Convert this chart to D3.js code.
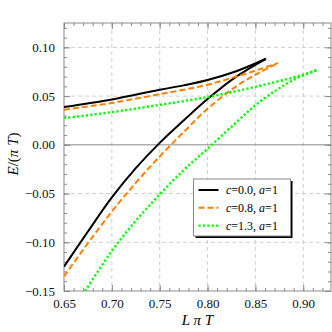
<!DOCTYPE html>
<html>
<head>
<meta charset="utf-8">
<script src="https://cdn.jsdelivr.net/npm/d3@7"></script>
<style>
  body { margin: 0; background: #fff; }
  svg text { font-family: serif; }
</style>
</head>
<body>
<svg id="chart" width="332" height="332"></svg>
<script>
// each curve has a lower and an upper branch meeting at a cusp
const c00_lower = [
    [0.650, -0.125], [0.675, -0.089], [0.700, -0.054], [0.725, -0.024], [0.750, 0.002],
    [0.775, 0.025], [0.800, 0.047], [0.830, 0.070], [0.861, 0.0883]
];
const c00_upper = [
    [0.650, 0.0387], [0.700, 0.0465], [0.750, 0.0565], [0.775, 0.0610], [0.800, 0.0665],
    [0.830, 0.0755], [0.850, 0.0835], [0.861, 0.0883]
];
const c08_lower = [
    [0.650, -0.135], [0.675, -0.101], [0.700, -0.0685], [0.725, -0.039], [0.750, -0.012],
    [0.775, 0.013], [0.800, 0.037], [0.830, 0.060], [0.855, 0.0745], [0.8735, 0.0839]
];
const c08_upper = [
    [0.650, 0.0360], [0.700, 0.0430], [0.750, 0.0520], [0.800, 0.0616], [0.830, 0.0701],
    [0.855, 0.0777], [0.8735, 0.0839]
];
const c13_lower = [
    [0.672, -0.150], [0.700, -0.109], [0.725, -0.078], [0.750, -0.051], [0.775, -0.026],
    [0.800, -0.004], [0.830, 0.023], [0.855, 0.0445], [0.890, 0.0667], [0.915, 0.077]
];
const c13_upper = [
    [0.650, 0.0274], [0.700, 0.0335], [0.750, 0.0410], [0.800, 0.0490], [0.850, 0.0595],
    [0.900, 0.0719], [0.915, 0.077]
];

const series = [
    {label: ['c', '=0.0, ', 'a', '=1'], branches: [c00_lower, c00_upper], color: '#000000', dash: null, width: 2},
    {label: ['c', '=0.8, ', 'a', '=1'], branches: [c08_lower, c08_upper], color: '#ff8000', dash: '6,3', width: 2},
    {label: ['c', '=1.3, ', 'a', '=1'], branches: [c13_lower, c13_upper], color: '#00ff00', dash: '2.2,2.2', width: 2.4}
];

const x_ticks = [0.65, 0.70, 0.75, 0.80, 0.85, 0.90];
const y_ticks = [-0.15, -0.10, -0.05, 0.00, 0.05, 0.10];
const x_domain = [0.65, 0.929];
const y_domain = [-0.15, 0.125];

const margin = {top: 23, left: 64, right: 1, bottom: 41};
const width = 332, height = 332;
const frame_color = '#8a8a8a';
const serif = 'serif';

const svg = d3.select('#chart');
const x = d3.scaleLinear().domain(x_domain).range([margin.left, width - margin.right]);
const y = d3.scaleLinear().domain(y_domain).range([height - margin.bottom, margin.top]);

const fmt = d3.format('.2f');
const x_minor = d3.range(65, 93).map(v => v / 100);
const y_minor = d3.range(-15, 13).map(v => v / 100);

// grid
const grid = svg.append('g');
grid.selectAll('.gx').data(x_ticks.slice(1)).join('line')
    .attr('x1', d => x(d)).attr('x2', d => x(d))
    .attr('y1', y.range()[1]).attr('y2', y.range()[0])
    .attr('stroke', '#cfcfcf').attr('stroke-dasharray', '4,3').attr('stroke-width', 1);
grid.selectAll('.gy').data(y_ticks.filter(d => d !== 0 && d !== -0.15)).join('line')
    .attr('y1', d => y(d)).attr('y2', d => y(d))
    .attr('x1', x.range()[0]).attr('x2', x.range()[1])
    .attr('stroke', '#cfcfcf').attr('stroke-dasharray', '4,3').attr('stroke-width', 1);

// zero line
svg.append('line')
    .attr('x1', x.range()[0]).attr('x2', x.range()[1])
    .attr('y1', y(0)).attr('y2', y(0))
    .attr('stroke', '#8a8a8a').attr('stroke-width', 1);

// frame with inward ticks on all sides
const axes = [
    d3.axisBottom(x).tickValues(x_minor).tickSizeInner(-3).tickSizeOuter(0).tickFormat(''),
    d3.axisBottom(x).tickValues(x_ticks).tickSizeInner(-6).tickSizeOuter(0).tickPadding(8).tickFormat(fmt),
    d3.axisTop(x).tickValues(x_minor).tickSizeInner(-3).tickSizeOuter(0).tickFormat(''),
    d3.axisTop(x).tickValues(x_ticks).tickSizeInner(-6).tickSizeOuter(0).tickFormat(''),
    d3.axisLeft(y).tickValues(y_minor).tickSizeInner(-3).tickSizeOuter(0).tickFormat(''),
    d3.axisLeft(y).tickValues(y_ticks).tickSizeInner(-6).tickSizeOuter(0).tickPadding(9).tickFormat(fmt),
    d3.axisRight(y).tickValues(y_minor).tickSizeInner(-3).tickSizeOuter(0).tickFormat(''),
    d3.axisRight(y).tickValues(y_ticks).tickSizeInner(-6).tickSizeOuter(0).tickFormat('')
];
const offsets = [
    `translate(0,${y.range()[0]})`, `translate(0,${y.range()[0]})`,
    `translate(0,${y.range()[1]})`, `translate(0,${y.range()[1]})`,
    `translate(${x.range()[0]},0)`, `translate(${x.range()[0]},0)`,
    `translate(${x.range()[1]},0)`, `translate(${x.range()[1]},0)`
];
axes.forEach((ax, i) => {
    const g = svg.append('g').attr('transform', offsets[i]).call(ax)
        .attr('font-family', serif).attr('font-size', 13);
    g.select('.domain').remove();
    g.selectAll('line').attr('stroke', frame_color);
    g.selectAll('text').attr('fill', '#111');
});

svg.append('rect')
    .attr('x', x.range()[0]).attr('y', y.range()[1])
    .attr('width', x.range()[1] - x.range()[0]).attr('height', y.range()[0] - y.range()[1])
    .attr('fill', 'none').attr('stroke', frame_color).attr('stroke-width', 1);

// curves
svg.append('clipPath').attr('id', 'plot-clip').append('rect')
    .attr('x', x.range()[0]).attr('y', y.range()[1])
    .attr('width', x.range()[1] - x.range()[0]).attr('height', y.range()[0] - y.range()[1]);

const line = d3.line().x(d => x(d[0])).y(d => y(d[1])).curve(d3.curveCatmullRom.alpha(0.5));
const curves = svg.append('g').attr('clip-path', 'url(#plot-clip)');
series.forEach(s => {
    curves.selectAll(null).data(s.branches).join('path')
        .attr('d', d => line(d))
        .attr('fill', 'none')
        .attr('stroke', s.color)
        .attr('stroke-width', s.width)
        .attr('stroke-linejoin', 'round')
        .attr('stroke-dasharray', s.dash);
});

// legend
const lg = svg.append('g').attr('transform', 'translate(193.5,179)');
lg.append('rect').attr('x', 2).attr('y', 2).attr('width', 97).attr('height', 57).attr('fill', '#000');
lg.append('rect').attr('width', 97).attr('height', 57).attr('fill', '#fff')
    .attr('stroke', '#888').attr('stroke-width', 1);
series.forEach((s, i) => {
    const row = lg.append('g').attr('transform', `translate(0,${11 + i * 17.8})`);
    row.append('line').attr('x1', 5).attr('x2', 25).attr('y1', 0).attr('y2', 0)
        .attr('stroke', s.color).attr('stroke-width', s.width)
        .attr('stroke-dasharray', s.dash);
    const t = row.append('text').attr('x', 32.5).attr('y', 4).attr('font-size', 12)
        .attr('font-family', serif);
    s.label.forEach((part, j) => {
        t.append('tspan').text(part).attr('font-style', j % 2 === 0 ? 'italic' : 'normal');
    });
});

// axis titles
svg.append('text').attr('x', (x.range()[0] + x.range()[1]) / 2).attr('y', 325)
    .attr('text-anchor', 'middle').attr('font-size', 15).attr('font-style', 'italic')
    .attr('font-family', serif)
    .text('L π T');

const yt = svg.append('text')
    .attr('transform', `translate(18,${(y.range()[0] + y.range()[1]) / 2 - 3}) rotate(-90)`)
    .attr('text-anchor', 'middle').attr('font-size', 15).attr('font-family', serif);
yt.append('tspan').text('E').attr('font-style', 'italic');
yt.append('tspan').text('/(');
yt.append('tspan').text('π T').attr('font-style', 'italic');
yt.append('tspan').text(')');
</script>
</body>
</html>
